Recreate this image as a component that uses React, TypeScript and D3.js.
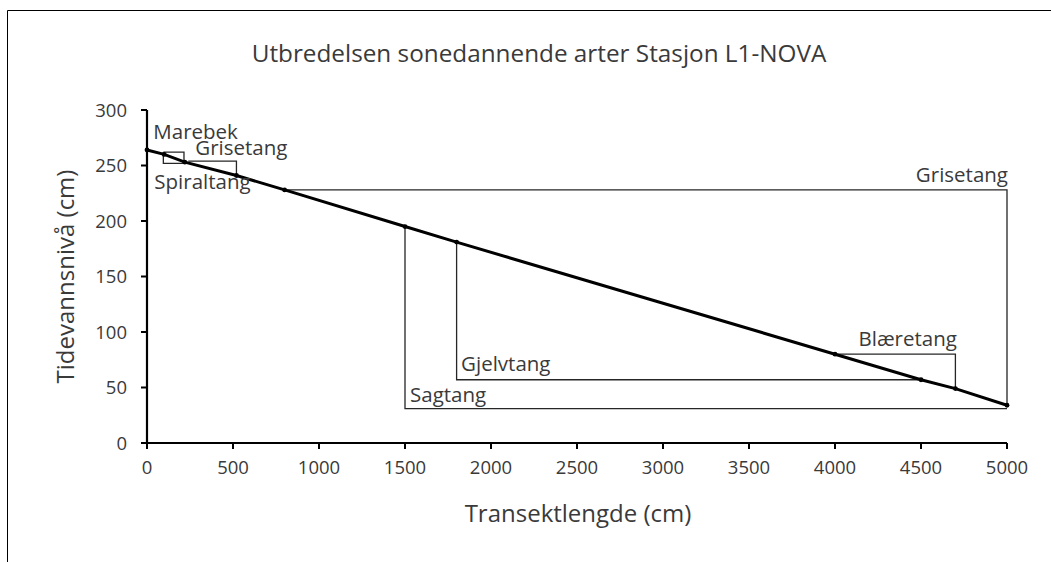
import React from "react";
import * as d3 from "d3";

// Main transect profile (x: cm along transect, y: tide level in cm)
const transectX = [0, 100, 220, 520, 800, 1500, 1800, 4000, 4500, 4700, 5000];
const tideLevel = [264, 260, 253, 241, 228, 195, 181, 80, 57, 49, 34];

// Species zone brackets
const zoneNames = ["Marebek", "Spiraltang", "Grisetang", "Grisetang", "Sagtang", "Gjelvtang", "Blæretang"];
const zoneStartX = [95, 95, 240, 800, 1500, 1800, 4000];
const zoneEndX = [215, 215, 520, 5000, 5000, 4500, 4700];
const zoneTop = [262, 262, 254, 228, 195, 181, 80];
const zoneBottom = [252, 252, 240, 34, 31, 57, 49];
const zoneShape = ["upper", "lower", "upper", "upper", "lower", "lower", "upper"];

const xTicks = [0, 500, 1000, 1500, 2000, 2500, 3000, 3500, 4000, 4500, 5000];
const yTicks = [0, 50, 100, 150, 200, 250, 300];

const title = "Utbredelsen sonedannende arter Stasjon L1-NOVA";
const xTitle = "Transektlengde (cm)";
const yTitle = "Tidevannsnivå (cm)";

// label layout relative to a bracket corner (pixels)
const labelLayout: { ref: string; dx: number; dy: number; anchor: string }[] = [
  { ref: "startTop", dx: -10, dy: -13, anchor: "start" },
  { ref: "startBottom", dx: -9, dy: 26, anchor: "start" },
  { ref: "startTop", dx: 7, dy: -6, anchor: "start" },
  { ref: "endTop", dx: 1, dy: -7.5, anchor: "end" },
  { ref: "startBottom", dx: 5, dy: -7, anchor: "start" },
  { ref: "startBottom", dx: 4.5, dy: -8.5, anchor: "start" },
  { ref: "endTop", dx: 1.5, dy: -8, anchor: "end" },
];

const FONT = "'Open Sans', 'Noto Sans', sans-serif";
const TEXT = "#3a3a3a";

export default function App() {
  const x = d3.scaleLinear().domain([0, 5000]).range([147, 1007]);
  const y = d3.scaleLinear().domain([0, 300]).range([443, 110]);
  const line = d3
    .line<number>()
    .x((_, i) => x(transectX[i]))
    .y((d) => y(d));

  const bracketPath = (i: number) => {
    const p = d3.path();
    p.moveTo(x(zoneStartX[i]), y(zoneTop[i]));
    if (zoneShape[i] === "upper") {
      p.lineTo(x(zoneEndX[i]), y(zoneTop[i]));
      p.lineTo(x(zoneEndX[i]), y(zoneBottom[i]));
    } else {
      p.lineTo(x(zoneStartX[i]), y(zoneBottom[i]));
      p.lineTo(x(zoneEndX[i]), y(zoneBottom[i]));
    }
    return p.toString();
  };

  const labelPos = (i: number) => {
    const L = labelLayout[i];
    let px = x(zoneStartX[i]);
    let py = y(zoneTop[i]);
    if (L.ref === "endTop") px = x(zoneEndX[i]);
    if (L.ref === "startBottom") py = y(zoneBottom[i]);
    return { px: px + L.dx, py: py + L.dy, anchor: L.anchor };
  };

  return (
    <svg
      width={1051}
      height={562}
      style={{ position: "absolute", left: 0, top: 0, background: "#fff" }}
      fontFamily={FONT}
    >
      <rect x={0} y={0} width={1051} height={562} fill="#fff" />
      {/* chart frame */}
      <path d="M7.5,600 V10.5 H1100" fill="none" stroke="#000" strokeWidth={1} />

      <text x={539} y={62} textAnchor="middle" fontSize={24.3} fill={TEXT}>
        {title}
      </text>

      {/* brackets */}
      {zoneNames.map((_, i) => (
        <path key={"b" + i} d={bracketPath(i)} fill="none" stroke="#262626" strokeWidth={1.3} />
      ))}

      {/* main profile line */}
      <path d={line(tideLevel) || ""} fill="none" stroke="#000" strokeWidth={3} />
      {transectX.map((v, i) => (
        <circle key={"p" + i} cx={x(v)} cy={y(tideLevel[i])} r={2.4} fill="#000" />
      ))}

      {/* axes */}
      <line x1={x(0)} x2={x(5000)} y1={y(0)} y2={y(0)} stroke="#000" strokeWidth={2.2} />
      <line x1={x(0)} x2={x(0)} y1={y(0)} y2={y(300)} stroke="#000" strokeWidth={2.2} />
      {xTicks.map((t) => (
        <g key={"xt" + t}>
          <line x1={x(t)} x2={x(t)} y1={y(0)} y2={y(0) + 6} stroke="#000" strokeWidth={2} />
          <text x={x(t)} y={y(0) + 31} textAnchor="middle" fontSize={18.5} fill={TEXT}>
            {t}
          </text>
        </g>
      ))}
      {yTicks.map((t) => (
        <g key={"yt" + t}>
          <line x1={x(0) - 6} x2={x(0)} y1={y(t)} y2={y(t)} stroke="#000" strokeWidth={2} />
          <text x={x(0) - 20} y={y(t) + 6.5} textAnchor="end" fontSize={18.5} fill={TEXT}>
            {t}
          </text>
        </g>
      ))}

      {/* zone labels */}
      {zoneNames.map((n, i) => {
        const p = labelPos(i);
        return (
          <text key={"l" + i} x={p.px} y={p.py} textAnchor={p.anchor} fontSize={20.5} fill={TEXT}>
            {n}
          </text>
        );
      })}

      <text x={578} y={522} textAnchor="middle" fontSize={24} fill={TEXT}>
        {xTitle}
      </text>
      <text
        transform={`translate(74,${276.5}) rotate(-90)`}
        textAnchor="middle"
        fontSize={24}
        fill={TEXT}
      >
        {yTitle}
      </text>
    </svg>
  );
}
